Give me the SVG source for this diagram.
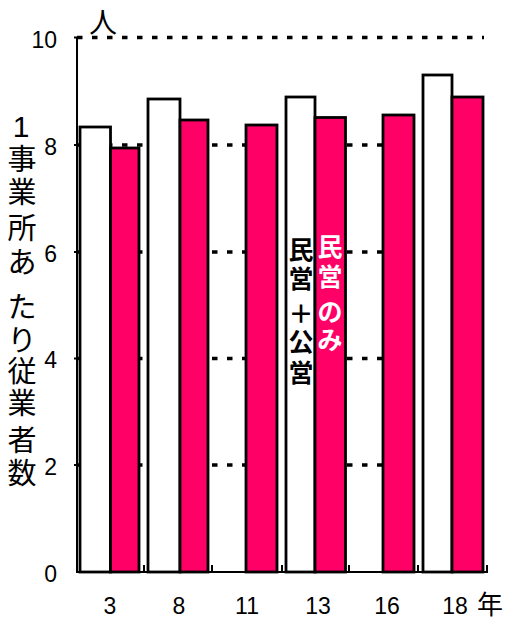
<svg xmlns="http://www.w3.org/2000/svg" width="509" height="619" viewBox="0 0 509 619">
<style>
.grid{stroke:#000;stroke-width:3.3;stroke-dasharray:5.5 9.5;fill:none}
.axis{stroke:#000;stroke-width:2;fill:none}
.wbar{fill:#fff;stroke:#000;stroke-width:2.8}
.pbar{fill:#FF0066;stroke:#000;stroke-width:2.8}
.num{font-family:"Liberation Sans",Arial,sans-serif;font-size:23px;fill:#000}
.jp{font-family:"Noto Sans CJK JP","Noto Sans",sans-serif;fill:#000;text-anchor:middle}
.lab{font-family:"Noto Sans CJK JP",sans-serif;font-size:25px;font-weight:bold;text-anchor:middle}
</style>
<rect width="509" height="619" fill="#fff"/>
<g id="grid">
<line class="grid" x1="77" y1="37.5" x2="484" y2="37.5"/>
<line class="grid" x1="77" y1="145" x2="484" y2="145"/>
<line class="grid" x1="77" y1="252" x2="484" y2="252"/>
<line class="grid" x1="77" y1="358.5" x2="484" y2="358.5"/>
<line class="grid" x1="77" y1="465" x2="484" y2="465"/>
</g>
<g id="bars">
<rect class="wbar" x="80" y="127" width="30.5" height="445"/>
<rect class="pbar" x="110.5" y="148" width="28.5" height="424"/>
<rect class="wbar" x="148" y="99" width="32" height="473"/>
<rect class="pbar" x="180" y="120" width="28" height="452"/>
<rect class="pbar" x="246" y="125" width="31" height="447"/>
<rect class="wbar" x="286" y="97" width="29" height="475"/>
<rect class="pbar" x="315" y="117.5" width="30.5" height="454.5"/>
<rect class="pbar" x="383" y="115" width="31" height="457"/>
<rect class="wbar" x="423" y="75" width="29" height="497"/>
<rect class="pbar" x="452" y="97" width="31" height="475"/>
</g>
<g id="axes">
<line class="axis" x1="77" y1="37" x2="77" y2="572"/>
<line class="axis" x1="76" y1="572" x2="488" y2="572"/>
<path class="axis" d="M74 37.5H78M74 145H78M74 252H78M74 358.5H78M74 465H78"/>
<path class="axis" d="M144 565V572M212 565V572M282 565V572M349 565V572M418 565V572M487 565V572"/>
</g>
<g id="ylabels" class="num" text-anchor="end">
<text x="57" y="48">10</text>
<text x="57" y="155">8</text>
<text x="57" y="262">6</text>
<text x="57" y="368">4</text>
<text x="57" y="475">2</text>
<text x="57" y="582">0</text>
</g>
<g id="xlabels" class="num" text-anchor="middle">
<text x="110" y="614">3</text>
<text x="179" y="614">8</text>
<text x="247" y="614">11</text>
<text x="318" y="614">13</text>
<text x="387" y="614">16</text>
<text x="455" y="614">18</text>
</g>
<text class="jp" x="490" y="614" font-size="26">年</text>
<text class="jp" x="103" y="33" font-size="28">人</text>
<g id="ytitle">
<text class="num" x="21" y="137" text-anchor="middle" style="font-size:30px">1</text>
<g class="jp" font-size="29">
<text x="22" y="169.5">事</text>
<text x="22" y="202.5">業</text>
<text x="22" y="238.5">所</text>
<text x="22" y="272.5">あ</text>
<text x="22" y="317.5">た</text>
<text x="22" y="350.5">り</text>
<text x="22" y="381.5">従</text>
<text x="22" y="413.5">業</text>
<text x="22" y="450.5">者</text>
<text x="22" y="483.5">数</text>
</g>
</g>
<g id="label-both" class="lab" fill="#000">
<text x="301" y="259">民</text>
<text x="301" y="288">営</text>
<text x="301" y="323">＋</text>
<text x="301" y="351">公</text>
<text x="301" y="382">営</text>
</g>
<g id="label-private" class="lab" fill="#fff">
<text x="330" y="256">民</text>
<text x="330" y="286">営</text>
<text x="330" y="321">の</text>
<text x="330" y="349">み</text>
</g>
</svg>
